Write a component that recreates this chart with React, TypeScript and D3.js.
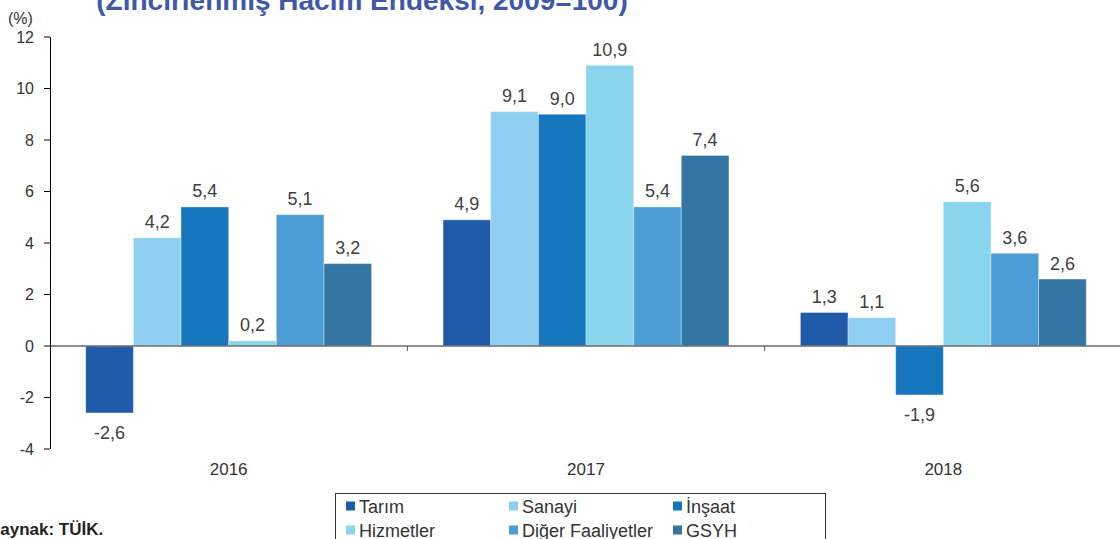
import React from "react";
import * as d3 from "d3";

const years = ["2016", "2017", "2018"];
const seriesNames = ["Tarım", "Sanayi", "İnşaat", "Hizmetler", "Diğer Faaliyetler", "GSYH"];
const seriesColors = ["#1F5BA8", "#8ECEF0", "#1676BE", "#8AD5EE", "#4C9CD6", "#3375A3"];
const tarim = [-2.6, 4.9, 1.3];
const sanayi = [4.2, 9.1, 1.1];
const insaat = [5.4, 9.0, -1.9];
const hizmetler = [0.2, 10.9, 5.6];
const diger = [5.1, 5.4, 3.6];
const gsyh = [3.2, 7.4, 2.6];
const yTicks = [-4, -2, 0, 2, 4, 6, 8, 10, 12];

const seriesValues = [tarim, sanayi, insaat, hizmetler, diger, gsyh];

export default function App() {
  const W = 1120, H = 539;
  const x0 = d3.scaleBand<string>().domain(years).range([50, 1122]);
  const x1 = d3
    .scaleBand<string>()
    .domain(seriesNames)
    .range([0, x0.bandwidth()])
    .paddingInner(0)
    .paddingOuter(0.75);
  const y = d3.scaleLinear().domain([-4, 12]).range([449, 37]);
  const fmt = (v: number) => v.toFixed(1).replace(".", ",");
  const font = "Arial, 'Liberation Sans', sans-serif";

  const legendCols = [346, 509, 673];
  const legendRows = [506, 530];

  return (
    <svg width={W} height={H} style={{ position: "absolute", left: 0, top: 0, fontFamily: font }}>
      <rect x={0} y={0} width={W} height={H} fill="#fff" />
      <text x={362} y={10} textAnchor="middle" fontSize={28} fontWeight="bold" fill="#3F58A9">
        (Zincirlenmiş Hacim Endeksi, 2009=100)
      </text>
      <text x={8} y={24} fontSize={16} fill="#333">(%)</text>

      {/* bars */}
      {years.map((yr, yi) =>
        seriesNames.map((s, si) => {
          const v = seriesValues[si][yi];
          const bx = (x0(yr) as number) + (x1(s) as number);
          const bw = x1.bandwidth();
          const top = y(Math.max(0, v));
          const h = Math.abs(y(v) - y(0));
          return (
            <g key={yr + s}>
              <rect x={bx} y={top} width={bw} height={h} fill={seriesColors[si]} stroke="#ffffff" strokeOpacity={0.35} strokeWidth={1} />
              <text
                x={bx + bw / 2}
                y={v >= 0 ? y(v) - 9.5 : y(v) + 26.5}
                textAnchor="middle"
                fontSize={18}
                fill="#404040"
              >
                {fmt(v)}
              </text>
            </g>
          );
        })
      )}

      {/* zero line */}
      <line x1={50} x2={1120} y1={y(0)} y2={y(0)} stroke="#6b6b6b" strokeWidth={1.5} />
      {years.slice(1).map((yr) => (
        <line key={yr} x1={x0(yr) as number} x2={x0(yr) as number} y1={y(0)} y2={y(0) + 5} stroke="#555" strokeWidth={1} />
      ))}

      {/* y axis */}
      <line x1={50.5} x2={50.5} y1={y(12)} y2={y(-4)} stroke="#000" strokeWidth={1} />
      {yTicks.map((t) => (
        <g key={t}>
          <line x1={44} x2={50} y1={y(t)} y2={y(t)} stroke="#000" strokeWidth={1} />
          <text x={34} y={y(t) + 5.5} textAnchor="end" fontSize={16} fill="#333">
            {t}
          </text>
        </g>
      ))}

      {/* category labels */}
      {years.map((yr) => (
        <text key={yr} x={(x0(yr) as number) + x0.bandwidth() / 2} y={475} textAnchor="middle" fontSize={17} fill="#333">
          {yr}
        </text>
      ))}

      {/* legend */}
      <rect x={335.5} y={493.5} width={490} height={60} fill="#fff" stroke="#333" strokeWidth={1} />
      {seriesNames.map((s, i) => {
        const cx = legendCols[i % 3];
        const cy = legendRows[Math.floor(i / 3)];
        return (
          <g key={s}>
            <rect x={cx} y={cy - 4.5} width={9} height={9} fill={seriesColors[i]} />
            <text x={cx + 13} y={cy + 6.5} fontSize={18} fill="#333">
              {s}
            </text>
          </g>
        );
      })}

      <text x={-12} y={535} fontSize={17} fontWeight="bold" fill="#222">
        Kaynak: TÜİK.
      </text>
    </svg>
  );
}
